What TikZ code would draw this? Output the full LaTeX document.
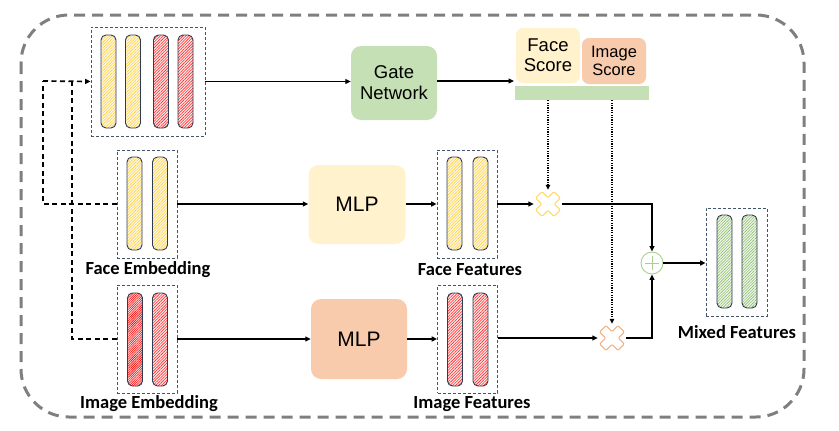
\documentclass[tikz,border=0pt]{standalone}
\usepackage{fontspec}
\setmainfont{Liberation Sans}
\newfontfamily\lblfont{Carlito}
\usetikzlibrary{arrows.meta,patterns.meta,calc}
\definecolor{gateg}{HTML}{C5E0B4}
\definecolor{facey}{HTML}{FFF2CC}
\definecolor{imgo}{HTML}{F8CBAD}
\definecolor{boxline}{HTML}{44546A}
\definecolor{barline}{HTML}{2F3B52}
\definecolor{hy}{HTML}{FFC000}
\definecolor{hr}{HTML}{FF0000}
\definecolor{hg}{HTML}{70AD47}
\definecolor{outerg}{HTML}{7F7F7F}
\definecolor{crossy}{HTML}{FFD966}
\definecolor{crosso}{HTML}{F4B183}
\definecolor{plusg}{HTML}{A9D18E}
\tikzset{
  grp/.style={draw=boxline, dash pattern=on 3pt off 2pt, line width=0.8pt, minimum width=60pt, minimum height=108pt, inner sep=0pt},
  bar/.style={draw=barline, line width=0.9pt, rounded corners=5pt, minimum width=15pt, minimum height=93pt, inner sep=0pt},
  ybar/.style={bar, preaction={fill=hy!10}, pattern={Lines[angle=45,distance=2pt,line width=0.6pt]}, pattern color=hy!75},
  rbar/.style={bar, preaction={fill=hr!8}, pattern={Lines[angle=45,distance=2pt,line width=0.6pt]}, pattern color=hr!85},
  rdbar/.style={bar, preaction={fill=hr!10}, pattern={Lines[angle=45,distance=1.6pt,line width=0.6pt]}, pattern color=hr},
  gbar/.style={bar, preaction={fill=hg!10}, pattern={Lines[angle=45,distance=2pt,line width=0.6pt]}, pattern color=hg!80},
  blk/.style={rounded corners=10pt, inner sep=0pt, align=center, font=\fontsize{18.5}{21}\selectfont},
  lbl/.style={font=\lblfont\bfseries\fontsize{18.5}{20}\selectfont, inner sep=0pt},
  arr/.style={-{Triangle[length=5.5pt,width=5pt]}, line width=1.6pt},
  dsh/.style={line width=1.7pt, dash pattern=on 5pt off 3.5pt},
  dtt/.style={-{Triangle[length=5pt,width=4.5pt]}, line width=1.6pt, dash pattern=on 1.2pt off 1.2pt},
  crossn/.style={circle, minimum size=28pt, inner sep=0pt},
}
\begin{document}
\begin{tikzpicture}[x=1pt,y=-1pt]
\useasboundingbox (0,0) rectangle (839,431);
% outer border
\draw[outerg, line width=3pt, dash pattern=on 11pt off 7pt, rounded corners=48pt] (21,15) rectangle (804,417);

% top concatenated box
\node[grp, minimum width=114pt, minimum height=109pt] (topbox) at (148,81.5) {};
\node[ybar] (t1) at (108.5,81.5) {};
\node[ybar] (t2) at (133,81.5) {};
\node[rbar] (t3) at (161,81.5) {};
\node[rbar] (t4) at (185.5,81.5) {};

% face embedding
\node[grp] (faceemb) at (147,204) {};
\node[ybar] (fe1) at (134.5,203.5) {};
\node[ybar] (fe2) at (160,203.5) {};
\node[lbl] (faceemblbl) at (148,270) {Face Embedding};

% image embedding
\node[grp] (imgemb) at (147,339) {};
\node[rdbar] (ie1) at (135,339.5) {};
\node[rbar] (ie2) at (160,339.5) {};
\node[lbl] (imgemblbl) at (149,404) {Image Embedding};

% face features
\node[grp] (facefeat) at (467,204) {};
\node[ybar] (ff1) at (454.5,203.5) {};
\node[ybar] (ff2) at (480.5,203.5) {};
\node[lbl] (facefeatlbl) at (470,270) {Face Features};

% image features
\node[grp] (imgfeat) at (467.5,339) {};
\node[rbar] (if1) at (455,339.5) {};
\node[rbar] (if2) at (480.5,339.5) {};
\node[lbl] (imgfeatlbl) at (472,404) {Image Features};

% mixed features
\node[grp, minimum width=61pt] (mixfeat) at (736.5,262) {};
\node[gbar] (mf1) at (724.5,261.5) {};
\node[gbar] (mf2) at (749.5,261.5) {};
\node[lbl] (mixfeatlbl) at (737,332) {Mixed Features};

% blocks
\node[blk, fill=gateg, minimum width=86pt, minimum height=74pt] (gate) at (394,83) {Gate\\Network};
\node[blk, fill=facey, minimum width=97pt, minimum height=79pt, font=\fontsize{21}{23}\selectfont] (facemlp) at (357,204.5) {MLP};
\node[blk, fill=imgo, minimum width=96pt, minimum height=80pt, font=\fontsize{21}{23}\selectfont] (imgmlp) at (359,339) {MLP};

% scores
\node[fill=gateg, minimum width=134pt, minimum height=14pt, inner sep=0pt] (scorebar) at (582,93) {};
\node[blk, fill=facey, rounded corners=7pt, minimum width=64pt, minimum height=55pt, font=\fontsize{18.5}{20}\selectfont] (facescore) at (548,55.5) {Face\\Score};
\node[blk, fill=imgo, rounded corners=7pt, minimum width=64pt, minimum height=46pt, font=\fontsize{16.5}{18.5}\selectfont] (imgscore) at (614,61) {Image\\Score};
\coordinate (scorein) at (514,81);

% multiply crosses
\node[crossn] (fc) at (548,204) {};
\node[crossn] (ic) at (612,338) {};
\foreach \n/\c in {fc/crossy, ic/crosso}{
  \draw[\c, line width=1.1pt, fill=white, rounded corners=1pt, shift={(\n.center)}, rotate=45]
    (-4.5,-13) -- (4.5,-13) -- (4.5,-4.5) -- (13,-4.5) -- (13,4.5) -- (4.5,4.5) -- (4.5,13)
    -- (-4.5,13) -- (-4.5,4.5) -- (-13,4.5) -- (-13,-4.5) -- (-4.5,-4.5) -- cycle;
}

% plus
\node[circle, draw=plusg, line width=0.9pt, minimum size=22pt, inner sep=0pt] (plus) at (652,263) {};
\draw[plusg, line width=0.8pt] ($(plus.center)+(-7,0)$) -- ($(plus.center)+(7,0)$)
  ($(plus.center)+(0,-7)$) -- ($(plus.center)+(0,7)$);

% connectors
\draw[arr] (topbox.east) -- (gate.west |- topbox.east);
\draw[arr] (gate.east |- scorein) -- (scorein);
\draw[arr] (faceemb.east) -- (facemlp.west |- faceemb.east);
\draw[arr] (facemlp.east |- facefeat.west) -- (facefeat.west);
\draw[arr] (facefeat.east) -- (fc.west);
\draw[arr] (fc.east) -| (plus.north);
\draw[arr] (imgemb.east) -- (imgmlp.west |- imgemb.east);
\draw[arr] (imgmlp.east |- imgfeat.west) -- (imgfeat.west);
\draw[arr] (imgfeat.east |- ic.west) -- (ic.west);
\draw[arr] (ic.east) -| (plus.south);
\draw[arr] (plus.east) -- (mixfeat.west |- plus.east);
\draw[dtt] (fc.north |- scorebar.south) -- (fc.north);
\draw[dtt] (ic.north |- scorebar.south) -- (ic.north);

% dashed concat paths
\coordinate (jA) at (43,81);
\coordinate (jB) at (72,81);
\draw[dsh] (faceemb.west) -- (faceemb.west -| jA) -- (jA);
\draw[dsh] (imgemb.west) -- (imgemb.west -| jB) -- (jB);
\draw[dsh, -{Triangle[length=5.5pt,width=5pt]}] (jA) -- (topbox.west);
\end{tikzpicture}
\end{document}
